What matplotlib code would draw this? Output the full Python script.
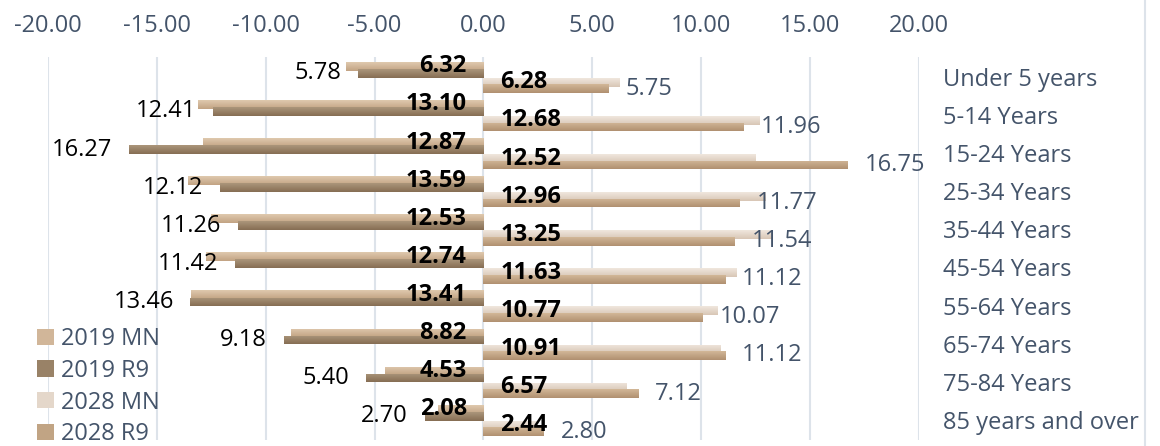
import numpy as np
import matplotlib
matplotlib.use("Agg")
import matplotlib.pyplot as plt
from matplotlib.patches import Patch
from matplotlib.colors import LinearSegmentedColormap

plt.rcParams['font.family'] = ['Open Sans', 'DejaVu Sans']

ages = ['Under 5 years', '5-14 Years', '15-24 Years', '25-34 Years', '35-44 Years',
        '45-54 Years', '55-64 Years', '65-74 Years', '75-84 Years', '85 years and over']
mn_2019 = [6.32, 13.10, 12.87, 13.59, 12.53, 12.74, 13.41, 8.82, 4.53, 2.08]
r9_2019 = [5.78, 12.41, 16.27, 12.12, 11.26, 11.42, 13.46, 9.18, 5.40, 2.70]
mn_2028 = [6.28, 12.68, 12.52, 12.96, 13.25, 11.63, 10.77, 10.91, 6.57, 2.44]
r9_2028 = [5.75, 11.96, 16.75, 11.77, 11.54, 11.12, 10.07, 11.12, 7.12, 2.80]

grads = {
    '2019 MN': ('#dfc9ae', '#c2a383'),
    '2019 R9': ('#ab967b', '#866d53'),
    '2028 MN': ('#f0e7de', '#d8c6b5'),
    '2028 R9': ('#d2b798', '#b09070'),
}
txt_blue = '#44546a'
fs = 17

fig = plt.figure(figsize=(11.6, 4.46), dpi=100)
ax = fig.add_axes([48 / 1160, 1 - 440 / 446, 871 / 1160, 383 / 446])

y = np.arange(len(ages))
h = 0.23


def grad_bars(vals, offset, name):
    top, bot = grads[name]
    cmap = LinearSegmentedColormap.from_list(name, [top, bot])
    g = np.linspace(0, 1, 64).reshape(-1, 1)
    bars = ax.barh(y + offset, vals, height=h, color='none', edgecolor='none')
    for p in bars.patches:
        x0, y0 = p.get_x(), p.get_y()
        w, hh = p.get_width(), p.get_height()
        im = ax.imshow(g, cmap=cmap, aspect='auto', origin='upper',
                       extent=(x0, x0 + w, y0 + hh, y0), zorder=2)
        im.set_clip_path(p)
    return bars


off_lmn, off_lr9, off_rmn, off_rr9 = -0.28, -0.095, 0.14, 0.31
grad_bars([-v for v in mn_2019], off_lmn, '2019 MN')
grad_bars([-v for v in r9_2019], off_lr9, '2019 R9')
grad_bars(mn_2028, off_rmn, '2028 MN')
grad_bars(r9_2028, off_rr9, '2028 R9')

for i in range(len(ages)):
    ax.annotate(f'{mn_2019[i]:.2f}', (0, i + off_lmn), xytext=(-12, 0), textcoords='offset points',
                ha='right', va='center', fontsize=fs, fontweight='bold', color='black', zorder=5)
    ax.annotate(f'{r9_2019[i]:.2f}', (-r9_2019[i], i + off_lr9), xytext=(-12, 0), textcoords='offset points',
                ha='right', va='center', fontsize=fs, color='black', zorder=5)
    ax.annotate(f'{mn_2028[i]:.2f}', (0, i + off_rmn), xytext=(12, 0), textcoords='offset points',
                ha='left', va='center', fontsize=fs, fontweight='bold', color='black', zorder=5)
    ax.annotate(f'{r9_2028[i]:.2f}', (r9_2028[i], i + off_rr9), xytext=(12, 0), textcoords='offset points',
                ha='left', va='center', fontsize=fs, color=txt_blue, zorder=5)

ax.set_xlim(-20, 20)
ax.set_ylim(9.53, -0.525)
ax.set_xticks(np.arange(-20, 21, 5))
ax.set_xticklabels([f'{v:.2f}' for v in np.arange(-20, 21, 5)])
ax.xaxis.tick_top()
ax.tick_params(axis='x', length=0, pad=14, labelsize=fs, labelcolor=txt_blue)
ax.set_yticks(y)
ax.set_yticklabels(ages)
ax.yaxis.tick_right()
ax.tick_params(axis='y', length=0, pad=17, labelsize=fs, labelcolor=txt_blue)
ax.grid(axis='x', color='#dde3ea', linewidth=1.5, zorder=0)
ax.set_axisbelow(True)
for s in ax.spines.values():
    s.set_visible(False)

fig.add_artist(plt.Line2D([1145 / 1160] * 2, [0, 1], color='#dde3ea', linewidth=1.5))

handles = [Patch(facecolor=((int(a[1:3], 16) + int(b[1:3], 16)) / 510,
                            (int(a[3:5], 16) + int(b[3:5], 16)) / 510,
                            (int(a[5:7], 16) + int(b[5:7], 16)) / 510), edgecolor='none')
           for a, b in grads.values()]
leg = fig.legend(handles, list(grads.keys()), loc='upper left',
                 bbox_to_anchor=(37 / 1160, 1 - 327 / 446), frameon=False,
                 fontsize=fs, handlelength=0.7, handleheight=0.68, handletextpad=0.32,
                 labelspacing=0.33, borderpad=0, borderaxespad=0)
for t in leg.get_texts():
    t.set_color(txt_blue)

fig.savefig('out.png', dpi=100)
